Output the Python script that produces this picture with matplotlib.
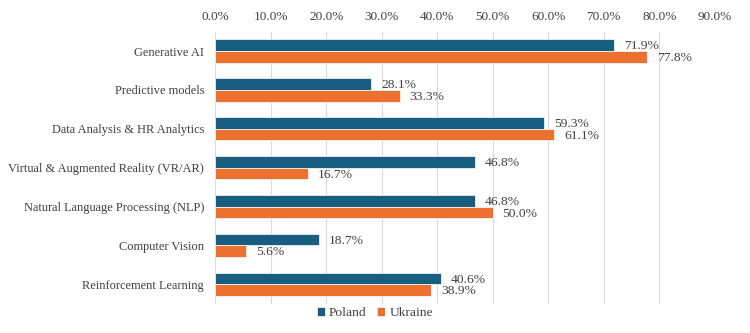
import matplotlib.pyplot as plt
import numpy as np
from matplotlib.ticker import FuncFormatter

categories = ['Generative AI', 'Predictive models', 'Data Analysis & HR Analytics',
              'Virtual & Augmented Reality (VR/AR)', 'Natural Language Processing (NLP)',
              'Computer Vision', 'Reinforcement Learning']
poland = [71.9, 28.1, 59.3, 46.8, 46.8, 18.7, 40.6]
ukraine = [77.8, 33.3, 61.1, 16.7, 50.0, 5.6, 38.9]

plt.rcParams['font.family'] = ['Liberation Serif', 'DejaVu Serif']

fig = plt.figure(figsize=(7.5, 3.33), dpi=100)
ax = fig.add_axes([0.287, 0.088, 0.666, 0.817])

y = np.arange(len(categories))
h = 0.3
c_pl = '#175E80'
c_ua = '#EC7130'
b1 = ax.barh(y - h / 2, poland, height=h, color=c_pl, edgecolor='white', linewidth=0.5, label='Poland')
b2 = ax.barh(y + h / 2, ukraine, height=h, color=c_ua, edgecolor='white', linewidth=0.5, label='Ukraine')

for bars, vals in [(b1, poland), (b2, ukraine)]:
    for bar, v in zip(bars, vals):
        ax.annotate(f'{v:.1f}%', (v, bar.get_y() + bar.get_height() / 2 + 0.03),
                    xytext=(7, 0), textcoords='offset points', va='center', ha='left',
                    fontsize=9.7, color='#404040')

ax.set_xlim(0, 90)
ax.set_xticks(np.arange(0, 91, 10))
ax.xaxis.set_major_formatter(FuncFormatter(lambda v, p: f'{v:.1f}%'))
ax.xaxis.tick_top()
ax.set_ylim(len(categories) - 0.5, -0.5)
ax.set_yticks(y)
ax.set_yticklabels(categories)
ax.tick_params(axis='both', length=0, colors='#404040')
ax.tick_params(axis='x', pad=6, labelsize=9.5)
ax.tick_params(axis='y', pad=8, labelsize=8.9)
ax.grid(axis='x', color='#D9D9D9', linewidth=0.8)
ax.set_axisbelow(True)
for s in ax.spines.values():
    s.set_visible(False)

fig.legend(loc='center', bbox_to_anchor=(0.5, 0.06), ncol=2, frameon=False,
           fontsize=9.7, handlelength=0.6, handleheight=0.6, handletextpad=0.3,
           columnspacing=0.8, labelcolor='#404040')

fig.savefig('out.png', dpi=100)
